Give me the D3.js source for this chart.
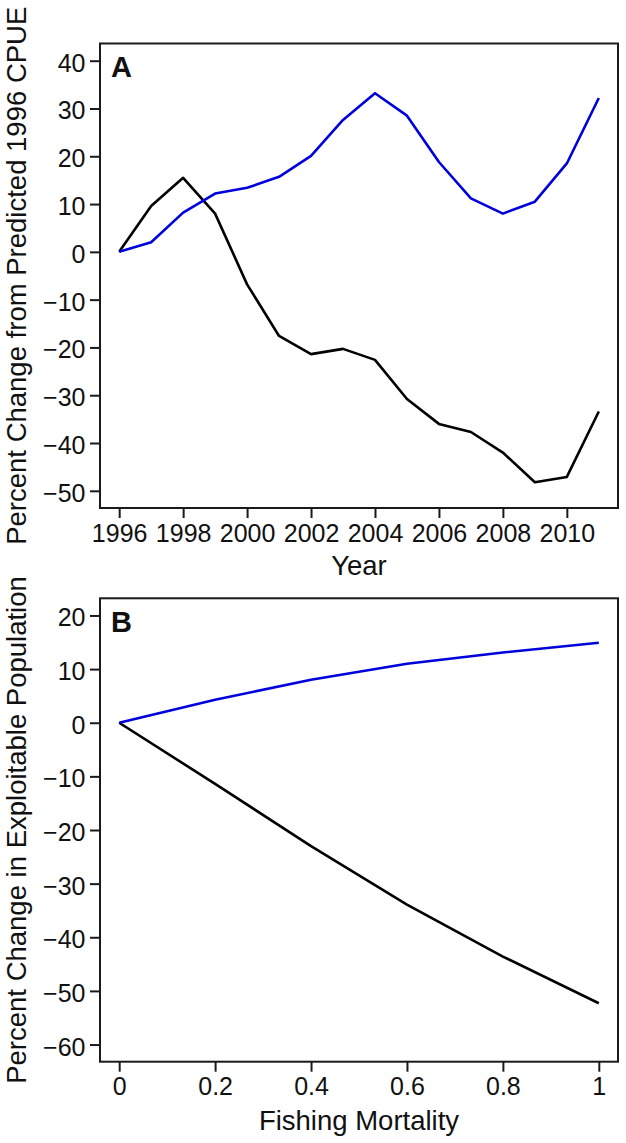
<!DOCTYPE html>
<html>
<head>
<meta charset="utf-8">
<script src="https://cdn.jsdelivr.net/npm/d3@7"></script>
<style>
  html, body { margin: 0; padding: 0; background: #ffffff; }
  svg { display: block; }
  text { font-family: "Liberation Sans", Arial, Helvetica, sans-serif; fill: #111; }
</style>
</head>
<body>
<svg id="chart" width="626" height="1143"></svg>
<script>
// ---- Data ----
const years = [1996,1997,1998,1999,2000,2001,2002,2003,2004,2005,2006,2007,2008,2009,2010,2011];
const cpueBlue  = [0, 2.0, 8.2, 12.2, 13.4, 15.7, 20.1, 27.6, 33.2, 28.5, 18.8, 11.2, 8.0, 10.5, 18.5, 32.2];
const cpueBlack = [0, 9.6, 15.5, 8.0, -6.8, -17.6, -21.4, -20.3, -22.6, -30.8, -36.0, -37.7, -42.0, -48.2, -47.1, -33.4];

const mortality = [0, 0.2, 0.4, 0.6, 0.8, 1.0];
const popBlue   = [0, 4.3, 8.0, 11.0, 13.1, 14.9];
const popBlack  = [0, -11.4, -23.0, -33.9, -43.6, -52.3];

const yearTicks = [1996,1998,2000,2002,2004,2006,2008,2010];
const cpueTicks = [40,30,20,10,0,-10,-20,-30,-40,-50];
const mortTicks = [0,0.2,0.4,0.6,0.8,1];
const popTicks  = [20,10,0,-10,-20,-30,-40,-50,-60];

const titleA = "Percent Change from Predicted 1996 CPUE";
const titleB = "Percent Change in Exploitable Population";
const xTitleA = "Year";
const xTitleB = "Fishing Mortality";

// ---- Layout ----
const svg = d3.select("#chart");
const BLUE = "#0000dd", BLACK = "#000000", AXIS = "#1a1a1a";
const left = 100, right = 618;
const panels = [
  { top: 43.5, bottom: 508, xDom: [1995.4, 2011.6], yDom: [-53.6, 43.6],
    xs: years, series: [cpueBlack, cpueBlue], xTicks: yearTicks, yTicks: cpueTicks,
    xFmt: d => String(d), label: "A", title: titleA, xTitle: xTitleA },
  { top: 598.3, bottom: 1061.7, xDom: [-0.04, 1.04], yDom: [-63.2, 23.2],
    xs: mortality, series: [popBlack, popBlue], xTicks: mortTicks, yTicks: popTicks,
    xFmt: d => String(d), label: "B", title: titleB, xTitle: xTitleB }
];

panels.forEach(p => {
  const x = d3.scaleLinear().domain(p.xDom).range([left, right]);
  const y = d3.scaleLinear().domain(p.yDom).range([p.bottom, p.top]);
  const g = svg.append("g");

  // lines
  const colors = [BLACK, BLUE];
  p.series.forEach((vals, i) => {
    const line = d3.line().x((d, j) => x(p.xs[j])).y(d => y(d));
    g.append("path").datum(vals)
      .attr("d", line)
      .attr("fill", "none")
      .attr("stroke", colors[i])
      .attr("stroke-width", 2.6)
      .attr("stroke-linejoin", "round")
      .attr("stroke-linecap", "butt");
  });

  // axes
  const yAxis = d3.axisLeft(y).tickValues(p.yTicks).tickSize(10).tickPadding(4.5)
    .tickFormat(d3.format("d"));
  const ya = g.append("g").attr("transform", `translate(${left},0)`).call(yAxis);
  const xAxis = d3.axisBottom(x).tickValues(p.xTicks).tickSize(10).tickPadding(6)
    .tickFormat(p.xFmt);
  const xa = g.append("g").attr("transform", `translate(0,${p.bottom})`).call(xAxis);
  [ya, xa].forEach(a => {
    a.select(".domain").remove();
    a.selectAll(".tick line").attr("stroke", AXIS).attr("stroke-width", 2);
    a.selectAll(".tick text").attr("font-size", 25).attr("fill", "#111")
      .style("font-family", '"Liberation Sans", Arial, sans-serif');
  });
  ya.selectAll(".tick text").attr("dy", "0.42em");

  // box
  g.append("rect")
    .attr("x", left).attr("y", p.top)
    .attr("width", right - left).attr("height", p.bottom - p.top)
    .attr("fill", "none").attr("stroke", AXIS).attr("stroke-width", 2);

  // panel label
  g.append("text").attr("x", 111).attr("y", p.top + 33.5)
    .attr("font-size", 29).attr("font-weight", "bold").text(p.label);

  // x title
  g.append("text").attr("x", (left + right) / 2).attr("y", p.bottom + (p.label === "A" ? 67 : 68.5))
    .attr("text-anchor", "middle").attr("font-size", 27.5).text(p.xTitle);

  // y title
  const cy = (p.top + p.bottom) / 2;
  g.append("text").attr("transform", `translate(26,${cy}) rotate(-90)`)
    .attr("text-anchor", "middle").attr("font-size", 27.5).text(p.title);
});
</script>
</body>
</html>
